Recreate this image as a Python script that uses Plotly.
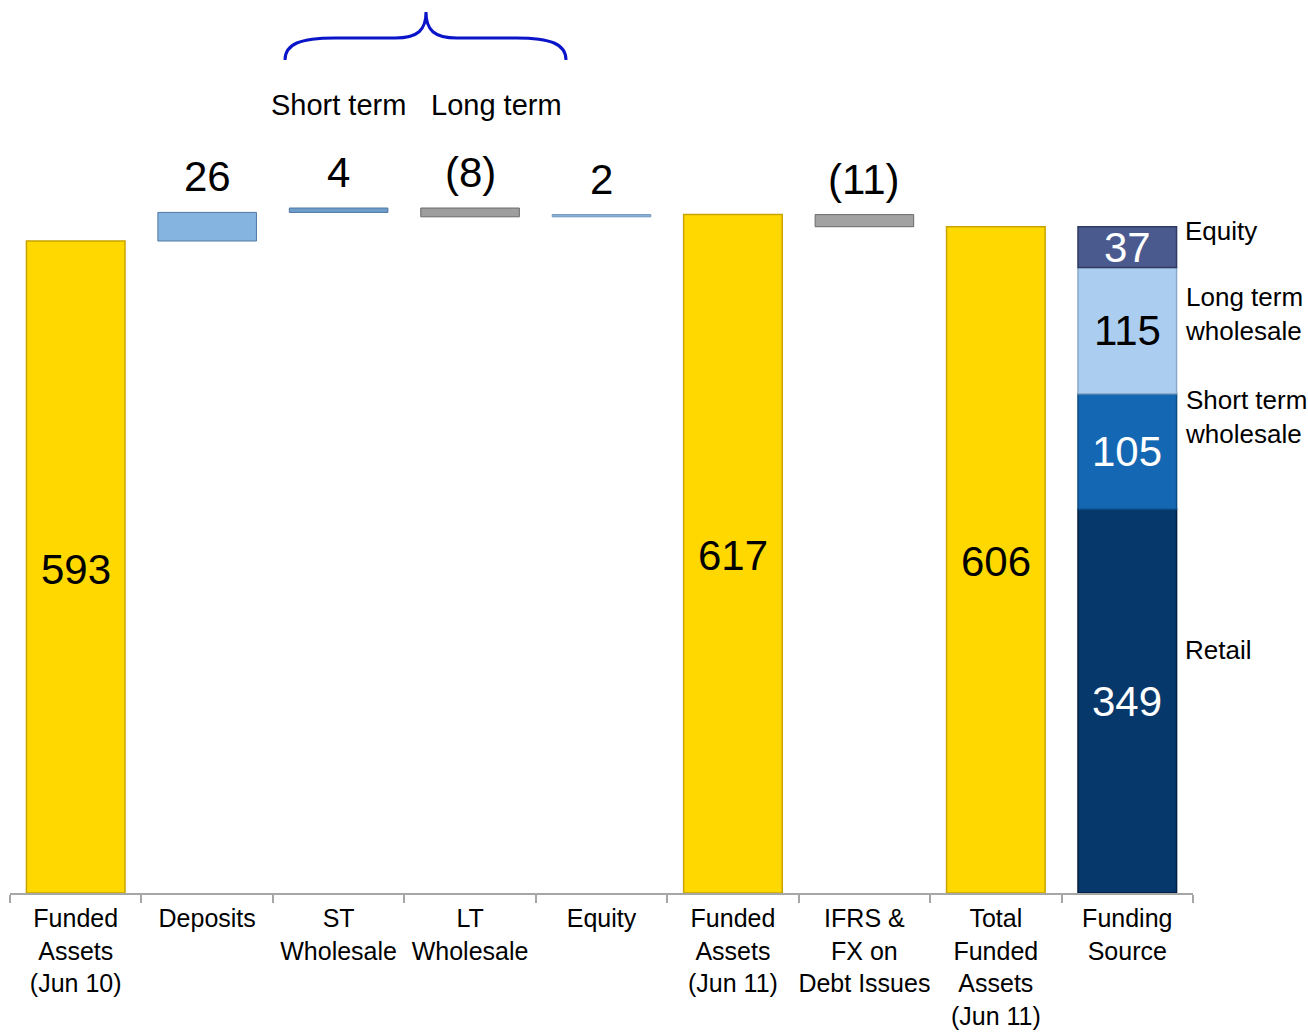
import plotly.graph_objects as go

# ---------------- data ----------------
cat_keys = ["FA10", "DEP", "STW", "LTW", "EQ", "FA11", "IFRS", "TFA11", "FS"]
cat_labels = ["Funded<br>Assets<br>(Jun 10)", "Deposits", "ST<br>Wholesale", "LT<br>Wholesale",
              "Equity", "Funded<br>Assets<br>(Jun 11)", "IFRS &<br>FX on<br>Debt Issues",
              "Total<br>Funded<br>Assets<br>(Jun 11)", "Funding<br>Source"]

start_assets = 593
movement_keys = ["DEP", "STW", "LTW", "EQ"]
movement_values = [26, 4, -8, 2]
mid_assets = 617
ifrs_value = -11
total_assets = 606

funding_names = ["Retail", "Short term<br>wholesale", "Long term<br>wholesale", "Equity"]
funding_values = [349, 105, 115, 37]

# ---------------- styles ----------------
FONT = "Liberation Sans, Arial, sans-serif"
YELLOW, YELLOW_EDGE = "#FFD800", "#C9A400"
move_colors = ["#86B4E0", "#6F9DCB", "#9E9E9E", "#8DB4DD"]
move_edges = ["#4E78A3", "#4E78A3", "#6A6A6A", "#6F95BF"]
ifrs_color, ifrs_edge = "#A2A2A2", "#6A6A6A"
fund_colors = ["#06386B", "#1468B3", "#ABCDEF", "#4A5A8E"]
fund_edges = ["#031F3D", "#0C4A82", "#8AA9C9", "#2F3B62"]
fund_text_colors = ["white", "white", "black", "white"]
fund_label_y = [221, 433, 527, 602]   # side-label positions (data units)

BAR_W = 0.75
fig = go.Figure()
annotations = []

# total bars
for key, val in [("FA10", start_assets), ("FA11", mid_assets), ("TFA11", total_assets)]:
    fig.add_trace(go.Bar(x=[key], y=[val], base=[0], width=BAR_W,
                         marker=dict(color=YELLOW, line=dict(color=YELLOW_EDGE, width=1.5)),
                         hoverinfo="skip", showlegend=False))
    annotations.append(dict(x=key, y=val / 2, yshift=-2, text=str(val), showarrow=False,
                            font=dict(size=42, color="black", family=FONT)))

def fmt(v):
    return str(v) if v >= 0 else "(%d)" % abs(v)

# movement bars
running = start_assets
for key, val, col, edge in zip(movement_keys, movement_values, move_colors, move_edges):
    base = running if val >= 0 else running + val
    fig.add_trace(go.Bar(x=[key], y=[abs(val)], base=[base], width=BAR_W,
                         marker=dict(color=col, line=dict(color=edge, width=1)),
                         hoverinfo="skip", showlegend=False))
    annotations.append(dict(x=key, y=base + abs(val), yanchor="bottom", yshift=10,
                            text=fmt(val), showarrow=False,
                            font=dict(size=42, color="black", family=FONT)))
    running += val

# IFRS bar
base = mid_assets + ifrs_value
fig.add_trace(go.Bar(x=["IFRS"], y=[abs(ifrs_value)], base=[base], width=BAR_W,
                     marker=dict(color=ifrs_color, line=dict(color=ifrs_edge, width=1)),
                     hoverinfo="skip", showlegend=False))
annotations.append(dict(x="IFRS", y=mid_assets, yanchor="bottom", yshift=10,
                        text=fmt(ifrs_value), showarrow=False,
                        font=dict(size=42, color="black", family=FONT)))

# funding source stack
cum = 0
for name, val, col, edge, tcol, ly in zip(funding_names, funding_values, fund_colors,
                                          fund_edges, fund_text_colors, fund_label_y):
    fig.add_trace(go.Bar(x=["FS"], y=[val], base=[cum], width=BAR_W,
                         marker=dict(color=col, line=dict(color=edge, width=1.5)),
                         hoverinfo="skip", showlegend=False))
    annotations.append(dict(x="FS", y=cum + val / 2, text=str(val), showarrow=False,
                            font=dict(size=42, color=tcol, family=FONT)))
    annotations.append(dict(x="FS", y=ly, xanchor="left", xshift=56, align="left",
                            text=name, showarrow=False,
                            font=dict(size=26, color="black", family=FONT)))
    cum += val

# header labels above brace
annotations.append(dict(x="STW", y=717, text="Short term", showarrow=False,
                        font=dict(size=29, color="black", family=FONT)))
annotations.append(dict(x="LTW", y=717, xshift=26, text="Long term", showarrow=False,
                        font=dict(size=29, color="black", family=FONT)))

# curly brace (pixel design converted to paper coords)
PL, PR, PT, PB = 10, 1193, 0, 893
def p(x, y):
    return "%.5f,%.5f" % ((x - PL) / (PR - PL), (PB - y) / (PB - PT))
brace = ("M" + p(285, 60) + " C" + p(285, 44) + " " + p(300, 38) + " " + p(335, 38) +
         " L" + p(395, 38) + " C" + p(418, 38) + " " + p(426, 30) + " " + p(426, 12) +
         " C" + p(426, 30) + " " + p(434, 38) + " " + p(457, 38) +
         " L" + p(516, 38) + " C" + p(551, 38) + " " + p(566, 44) + " " + p(566, 60))
fig.add_shape(type="path", path=brace, xref="paper", yref="paper",
              line=dict(color="#0A14C8", width=3))

fig.update_layout(
    width=1308, height=1033,
    margin=dict(l=PL, r=1308 - PR, t=PT, b=1033 - PB, autoexpand=False),
    paper_bgcolor="white", plot_bgcolor="white",
    barmode="overlay", bargap=0.25,
    annotations=annotations,
    font=dict(family=FONT, size=26, color="black"),
    xaxis=dict(type="category", categoryorder="array", categoryarray=cat_keys,
               tickvals=cat_keys, ticktext=cat_labels, tickson="boundaries",
               ticks="outside", ticklen=8, tickcolor="#A6A6A6", tickwidth=2,
               tickangle=0, automargin=False, ticklabelstandoff=2,
               showline=True, linecolor="#A6A6A6", linewidth=2,
               showgrid=False, zeroline=False,
               tickfont=dict(size=25, color="black", family=FONT),
               range=[-0.5, 8.5]),
    yaxis=dict(range=[0, 812.2], visible=False, showgrid=False, zeroline=False,
               automargin=False),
)

fig.write_html("out.html")
